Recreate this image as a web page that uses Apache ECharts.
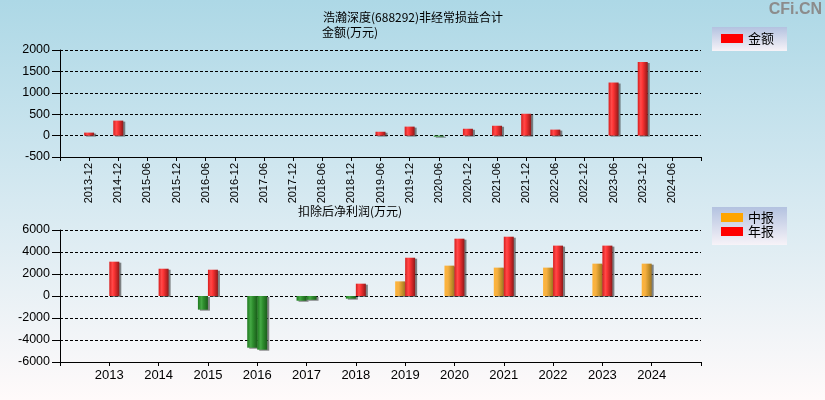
<!DOCTYPE html>
<html>
<head>
<meta charset="utf-8">
<script src="https://cdn.jsdelivr.net/npm/echarts@6/dist/echarts.min.js"></script>
<style>html,body{margin:0;padding:0;}#c{width:825px;height:400px;}</style>
</head>
<body>
<div id="c"></div>
<script>
// ---- data ----
var topCategories = ['2013-12','2014-12','2015-06','2015-12','2016-06','2016-12','2017-06','2017-12','2018-06','2018-12','2019-06','2019-12','2020-06','2020-12','2021-06','2021-12','2022-06','2022-12','2023-06','2023-12','2024-06'];
var topValues = [70, 350, null, null, null, null, null, null, null, null, 90, 210, -25, 160, 230, 510, 140, null, 1240, 1720, null];
var topYTicks = {min: -500, max: 2000, interval: 500};

var years = ['2013','2014','2015','2016','2017','2018','2019','2020','2021','2022','2023','2024'];
var midValues = [null, null, -1240, -4700, -430, -240, 1330, 2760, 2580, 2580, 2940, 2940];
var annualValues = [3120, 2480, 2390, -4880, -340, 1120, 3480, 5210, 5390, 4580, 4580, null];
var bottomYTicks = {min: -6000, max: 6000, interval: 2000};

// ---- styles ----
function grad(stops) {
  return {type: 'linear', x: 0, y: 0, x2: 1, y2: 0,
    colorStops: stops.map(function (s) { return {offset: s[0], color: s[1]}; })};
}
var redGrad = grad([[0, '#d81c1c'], [0.3, '#ff4a4a'], [0.45, '#ff3636'], [0.75, '#c82424'], [1, '#8c1a1a']]);
var greenGrad = grad([[0, '#1f7a1f'], [0.35, '#45a845'], [0.55, '#2f8f2f'], [1, '#1a5e1a']]);
var orangeGrad = grad([[0, '#ffb43a'], [0.35, '#f6b040'], [0.7, '#c8922a'], [1, '#9c7424']]);
var shadow = {shadowColor: 'rgba(70,70,70,0.65)', shadowOffsetX: 2, shadowOffsetY: 1, shadowBlur: 0};

function items(vals, posGrad) {
  return vals.map(function (v) {
    if (v === null) return null;
    return {value: v, itemStyle: Object.assign({color: v < 0 ? greenGrad : posGrad}, shadow)};
  });
}

var FONT = 'Liberation Sans, Arial, Noto Sans CJK SC, sans-serif';
var CJK = 'Noto Sans CJK SC, sans-serif';

var chart = echarts.init(document.getElementById('c'), null, {renderer: 'canvas'});
var boxGrad = {type: 'linear', x: 0, y: 0, x2: 0, y2: 1,
  colorStops: [{offset: 0, color: '#b3c2e0'}, {offset: 1, color: '#f7f3f8'}]};

var splitLine = {show: true, lineStyle: {color: '#000', type: [3, 2], width: 1}};
var axisLine = {show: true, onZero: false, lineStyle: {color: '#000', width: 1}};
var plain = function (v) { return String(v); };

chart.setOption({
  backgroundColor: {type: 'linear', x: 0, y: 0, x2: 0, y2: 1,
    colorStops: [{offset: 0, color: '#add8e6'}, {offset: 0.5, color: '#d6e9f1'}, {offset: 1, color: '#fffafa'}]},
  animation: false,
  textStyle: {fontFamily: FONT},
  title: [
    {text: '浩瀚深度(688292)非经常损益合计', left: 323, top: 11, padding: 0,
      textStyle: {fontSize: 12, fontWeight: 'normal', color: '#000', fontFamily: CJK}},
    {text: '金额(万元)', left: 322, top: 26, padding: 0,
      textStyle: {fontSize: 12, fontWeight: 'normal', color: '#000', fontFamily: CJK}},
    {text: '扣除后净利润(万元)', left: 298, top: 205, padding: 0,
      textStyle: {fontSize: 12, fontWeight: 'normal', color: '#000', fontFamily: CJK}}
  ],
  graphic: [
    {type: 'rect', left: 712, top: 27, shape: {width: 75, height: 24}, style: {fill: boxGrad}, z: 0},
    {type: 'rect', left: 712, top: 207, shape: {width: 75, height: 38}, style: {fill: boxGrad}, z: 0},
    {type: 'text', right: 3, top: 2, style: {text: 'CFi.CN', fill: '#8c8c8c', font: 'bold 16px ' + FONT}, z: 10}
  ],
  legend: [
    {left: 721, top: 32, padding: 0, itemWidth: 22, itemHeight: 9, icon: 'rect',
      data: [{name: '金额', itemStyle: {color: '#ff0000'}}],
      textStyle: {fontSize: 13, color: '#000', fontFamily: CJK}, z: 5},
    {left: 721, top: 211, padding: 0, orient: 'vertical', itemGap: 1, itemWidth: 22, itemHeight: 9, icon: 'rect',
      data: [{name: '中报', itemStyle: {color: '#ffa500'}}, {name: '年报', itemStyle: {color: '#ff0000'}}],
      textStyle: {fontSize: 13, color: '#000', fontFamily: CJK, lineHeight: 13}, z: 5}
  ],
  grid: [
    {left: 60, right: 124, top: 50, height: 107, containLabel: false},
    {left: 60, right: 124, top: 230, height: 132, containLabel: false}
  ],
  xAxis: [
    {type: 'category', gridIndex: 0, boundaryGap: false, data: [''].concat(topCategories, ['']),
      axisLine: axisLine, axisTick: {show: true, length: 4, lineStyle: {color: '#000'}},
      axisLabel: {rotate: 90, fontSize: 11, color: '#000', margin: 6, interval: 0},
      splitLine: {show: false}},
    {type: 'category', gridIndex: 1, boundaryGap: false, data: [''].concat(years, ['']),
      axisLine: axisLine, axisTick: {show: true, length: 4, lineStyle: {color: '#000'}},
      axisLabel: {fontSize: 13, color: '#000', margin: 7, interval: 0},
      splitLine: {show: false}}
  ],
  yAxis: [
    {type: 'value', gridIndex: 0, min: topYTicks.min, max: topYTicks.max, interval: topYTicks.interval,
      axisLine: {show: true, lineStyle: {color: '#000'}}, axisTick: {show: true, length: 8, lineStyle: {color: '#000'}},
      axisLabel: {fontSize: 12.5, color: '#000', margin: 10, formatter: plain}, splitLine: splitLine},
    {type: 'value', gridIndex: 1, min: bottomYTicks.min, max: bottomYTicks.max, interval: bottomYTicks.interval,
      axisLine: {show: true, lineStyle: {color: '#000'}}, axisTick: {show: true, length: 8, lineStyle: {color: '#000'}},
      axisLabel: {fontSize: 12.5, color: '#000', margin: 10, formatter: plain}, splitLine: splitLine}
  ],
  series: [
    {name: '金额', type: 'bar', xAxisIndex: 0, yAxisIndex: 0, barWidth: 10,
      data: [null].concat(items(topValues, redGrad), [null])},
    {name: '中报', type: 'bar', xAxisIndex: 1, yAxisIndex: 1, barWidth: 10, barGap: '0%',
      data: [null].concat(items(midValues, orangeGrad), [null])},
    {name: '年报', type: 'bar', xAxisIndex: 1, yAxisIndex: 1, barWidth: 10, barGap: '0%',
      data: [null].concat(items(annualValues, redGrad), [null])}
  ]
});
</script>
</body>
</html>
